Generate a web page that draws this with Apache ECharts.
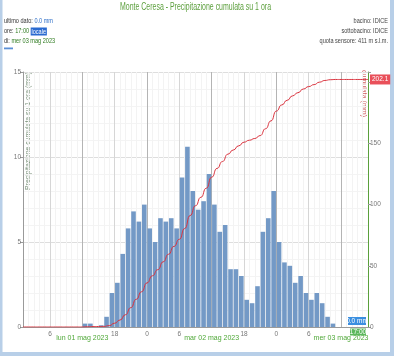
<!DOCTYPE html>
<html><head><meta charset="utf-8">
<script src="https://cdn.jsdelivr.net/npm/echarts@6/dist/echarts.min.js"></script>
<style>html,body{margin:0;padding:0;background:#fff}#c{width:394px;height:356px}</style>
</head><body><div id="c"></div>
<script>
// ---- data (hours counted from lun 01 mag 2023 00:00) ----
const chartTitle = 'Monte Ceresa - Precipitazione cumulata su 1 ora';
const dayLabels = ['lun 01 mag 2023', 'mar 02 mag 2023', 'mer 03 mag 2023'];
const lastTime = '17:00';
const lastDay = 'mer 03 mag 2023';
const basin = 'IDICE';
const subBasin = 'IDICE';
const sensorHeight = '411 m s.l.m.';
const leftAxisName = 'Precipitazione cumulata su 1 ora (mm)';
const rightAxisName = 'cumulata (mm)';
// end hour of each hourly total
const barEndHours = [2,3,4,5,6,7,8,9,10,11,12,13,14,15,16,17,18,19,20,21,22,23,24,25,26,27,28,29,30,31,32,33,
  34,35,36,37,38,39,40,41,42,43,44,45,46,47,48,49,50,51,52,53,54,55,56,57,58,59,60,61,62,63,64,65];
const hourlyRain = [0,0,0,0,0,0,0,0,0,0,0,
  0.2,0.2,0,0.1,0.6,2.0,2.6,4.3,5.8,6.8, 6.2,7.2,5.8,5.0,6.4,6.2,6.4,5.8,8.8,10.6,
  8.0,6.9,7.4,9.0,7.2,5.6,6.0,3.4,3.4,3.0, 1.6,1.4,2.4,5.6,6.4,8.0,5.0,3.8,3.6,2.6,
  3.0,2.0,1.6,2.0,1.4,0.6,0.2,
  0,0,0,0,0,0];
const cumHours = [1,2,3,4,5,6,7,8,9,10,11,12,13,14,15,16,17,18,19,20,21,22,23,24,25,26,27,28,29,30,31,32,33,
  34,35,36,37,38,39,40,41,42,43,44,45,46,47,48,49,50,51,52,53,54,55,56,57,58,59,60,61,62,63,64,65];
const cumRain = [0,0,0,0,0,0,0,0,0,0,0,0,
  0.2,0.4,0.4,0.5,1.1,3.1,5.7,10.0,15.8,22.6, 28.8,36.0,41.8,46.8,53.2,59.4,65.8,71.6,80.4,91.0,
  99.0,105.9,113.3,122.3,129.5,135.1,141.1,144.5,147.9,150.9, 152.5,153.9,156.3,161.9,168.3,176.3,181.3,185.1,188.7,191.3,
  194.3,196.3,197.9,199.9,201.3,201.9,202.1,
  202.1,202.1,202.1,202.1,202.1,202.1];
const leftTicks = [0, 5, 10, 15];
const rightTicks = [0, 50, 100, 150];

// ---- helpers ----
const FF = '"Liberation Sans", Arial, sans-serif';
const ctx = document.createElement('canvas').getContext('2d');
function textW(str, font) { ctx.font = font; return ctx.measureText(str).width; }

const lastRain = hourlyRain[hourlyRain.length - 1].toFixed(1) + ' mm';
const infoFont = '7px ' + FF;
const line1 = 'ultimo dato: ' + lastRain;
const sInfo = 49 / textW(line1, infoFont);
const titleFont = '11px ' + FF;
const sTitle = 151 / textW(chartTitle, titleFont);
const nameFont = '7px ' + FF;
const sLeftName = 118 / textW(leftAxisName, nameFont);
const sRightName = 47 / textW(rightAxisName, nameFont);

const gridColors = ['#f3f3f3','#f3f3f3','#f3f3f3','#f3f3f3','#f3f3f3','#d6d6d6',
                    '#f3f3f3','#f3f3f3','#f3f3f3','#f3f3f3','#f3f3f3','#b4b4b4'];

const chart = echarts.init(document.getElementById('c'), null, {renderer: 'canvas'});
const part = (fill, extra) => Object.assign({fill: fill, font: infoFont}, extra || {});

chart.setOption({
  animation: false,
  backgroundColor: '#fff',
  grid: {left: 23, right: 26, top: 72, bottom: 29, containLabel: false},
  xAxis: {
    type: 'value', min: 1, max: 65, interval: 1,
    axisLine: {lineStyle: {color: '#9a9a9a'}},
    axisTick: {show: false},
    splitLine: {show: true, lineStyle: {color: gridColors, width: 1}},
    axisLabel: {
      margin: 4, fontSize: 6.5, color: '#777', fontFamily: FF,
      formatter: function (v) {
        if (v % 6 !== 0) return '';
        const hh = v % 24;
        if (hh === 12) return '{d|' + dayLabels[Math.floor(v / 24)] + '}';
        return String(hh);
      },
      rich: {d: {color: '#4fa838', fontSize: 7, fontFamily: FF, padding: [4, 0, 0, 0]}}
    }
  },
  yAxis: [{
    type: 'value', min: 0, max: 15, interval: 5, position: 'left',
    axisLine: {show: true, lineStyle: {color: '#9a9a9a'}},
    axisTick: {show: true, length: 3, lineStyle: {color: '#9a9a9a'}},
    axisLabel: {fontSize: 6.5, color: '#777', margin: 2, fontFamily: FF,
      formatter: v => leftTicks.indexOf(v) >= 0 ? String(v) : ''},
    splitLine: {show: true, lineStyle: {color: '#dedede'}},
    minorTick: {show: false, splitNumber: 5},
    minorSplitLine: {show: true, lineStyle: {color: '#f4f4f4'}}
  }, {
    type: 'value', min: 0, max: 208.2, interval: 50, position: 'right',
    axisLine: {show: true, lineStyle: {color: '#5aa03c'}},
    axisTick: {show: true, length: 3, lineStyle: {color: '#9a9a9a'}},
    axisLabel: {fontSize: 6.5, color: '#777', margin: 2, fontFamily: FF,
      formatter: v => rightTicks.indexOf(v) >= 0 ? String(v) : ''},
    splitLine: {show: false}
  }],
  series: [{
    type: 'bar', xAxisIndex: 0, yAxisIndex: 0, clip: false,
    data: barEndHours.map((h, i) => [h - 0.5, hourlyRain[i]]),
    barWidth: 4.6,
    itemStyle: {color: '#7399c6'},
    z: 3,
    markPoint: {
      symbol: 'rect', silent: true,
      data: [{
        coord: [barEndHours[barEndHours.length - 1], 0],
        symbolSize: [18, 8], symbolOffset: [-11, -6],
        itemStyle: {color: '#3b8fe0'},
        label: {show: true, position: 'inside', formatter: lastRain, color: '#fff', fontSize: 6.5, fontFamily: FF}
      }, {
        coord: [barEndHours[barEndHours.length - 1], 0],
        symbolSize: [16, 7], symbolOffset: [-10, 5],
        itemStyle: {color: '#5cb85c'},
        label: {show: true, position: 'inside', formatter: lastTime, color: '#fff', fontSize: 6.5, fontFamily: FF}
      }]
    }
  }, {
    type: 'line', xAxisIndex: 0, yAxisIndex: 1,
    data: cumHours.map((h, i) => [h, cumRain[i]]),
    symbol: 'none', smooth: 0.6, smoothMonotone: 'x',
    lineStyle: {color: '#d9343f', width: 1},
    itemStyle: {color: '#d9343f'},
    z: 4,
    endLabel: {show: true, formatter: p => p.value[1].toFixed(1), backgroundColor: '#e9505a',
      color: '#fff', fontSize: 6.5, fontFamily: FF, padding: [2, 2, 1, 2], distance: 2}
  }],
  graphic: [
    {type: 'rect', shape: {x: 0, y: 0, width: 2.5, height: 356}, style: {fill: '#b8cfe8'}, silent: true},
    {type: 'rect', shape: {x: 390, y: 0, width: 4, height: 356}, style: {fill: '#b8cfe8'}, silent: true},
    {type: 'rect', shape: {x: 0, y: 352, width: 394, height: 4}, style: {fill: '#b8cfe8'}, silent: true},
    {type: 'text', x: 195.5, y: 7, scaleX: sTitle, silent: true,
      style: {text: chartTitle, font: titleFont, fill: '#5c9f3d', align: 'center', verticalAlign: 'middle'}},
    {type: 'text', x: 4, y: 21.5, scaleX: sInfo, silent: true,
      style: {text: '{a|ultimo dato: }{b|' + lastRain + '}', font: infoFont, verticalAlign: 'middle',
        rich: {a: part('#333'), b: part('#2f6fc8')}}},
    {type: 'text', x: 4, y: 31.5, scaleX: sInfo, silent: true,
      style: {text: '{a|ore: }{g|' + lastTime + '} {l|locale}', font: infoFont, verticalAlign: 'middle',
        rich: {a: part('#333'), g: part('#2d7a1e'), l: part('#fff', {backgroundColor: '#2a6ad0', padding: [1, 1, 0, 1]})}}},
    {type: 'text', x: 4, y: 41.5, scaleX: sInfo, silent: true,
      style: {text: '{a|di: }{g|' + lastDay + '}', font: infoFont, verticalAlign: 'middle',
        rich: {a: part('#333'), g: part('#2d7a1e')}}},
    {type: 'rect', shape: {x: 4, y: 47.5, width: 9, height: 1.8}, style: {fill: '#5b8fd6'}, silent: true},
    {type: 'text', x: 388, y: 21.5, scaleX: sInfo, silent: true,
      style: {text: 'bacino: ' + basin, font: infoFont, fill: '#444', align: 'right', verticalAlign: 'middle'}},
    {type: 'text', x: 388, y: 31.5, scaleX: sInfo, silent: true,
      style: {text: 'sottobacino: ' + subBasin, font: infoFont, fill: '#444', align: 'right', verticalAlign: 'middle'}},
    {type: 'text', x: 388, y: 41.5, scaleX: sInfo, silent: true,
      style: {text: 'quota sensore: ' + sensorHeight, font: infoFont, fill: '#444', align: 'right', verticalAlign: 'middle'}},
    {type: 'text', x: 28, y: 72, rotation: Math.PI / 2, scaleX: sLeftName, silent: true,
      style: {text: leftAxisName, font: nameFont, fill: '#7a927a', align: 'right', verticalAlign: 'middle'}},
    {type: 'text', x: 363.5, y: 70, rotation: -Math.PI / 2, scaleX: sRightName, silent: true,
      style: {text: rightAxisName, font: nameFont, fill: '#d06060', align: 'left', verticalAlign: 'middle'}}
  ]
});
</script></body></html>
